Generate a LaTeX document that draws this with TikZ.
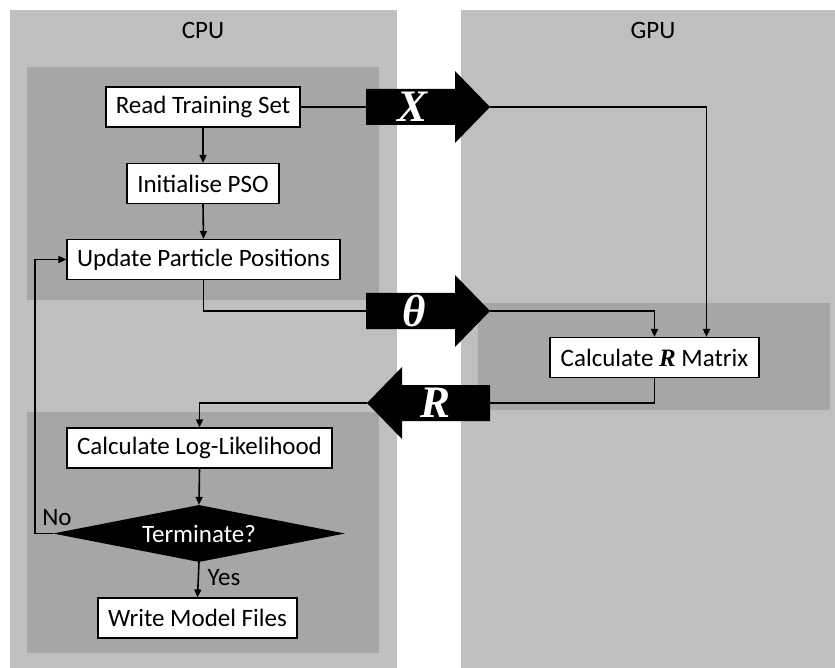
\documentclass[tikz,border=0pt]{standalone}
\usepackage{fontspec}
\setmainfont{Carlito}
\newfontfamily\symfont{Liberation Serif}
\usetikzlibrary{shapes.geometric,arrows.meta,calc}
\definecolor{panellight}{HTML}{BFBFBF}
\definecolor{paneldark}{HTML}{A6A6A6}
\begin{document}
\begin{tikzpicture}[x=1pt,y=-1pt,
  txt/.style={font=\fontsize{25}{27}\selectfont},
  box/.style={draw=black,line width=1.2pt,fill=white,minimum height=40pt,inner sep=0pt,txt},
  conn/.style={line width=1.6pt},
  arr/.style={conn,-{Triangle[length=8pt,width=7pt]}},
  bigarrow/.style={fill=black},
  biglabel/.style={text=white,font=\symfont\bfseries\itshape\fontsize{45}{45}\selectfont,inner sep=0pt}
]
\useasboundingbox (0,0) rectangle (835,668);
\fill[white] (0,0) rectangle (835,668);
% panels
\fill[panellight] (10,10) rectangle (397,668);
\fill[panellight] (461,10) rectangle (835,668);
\fill[paneldark] (27,67) rectangle (379,300);
\fill[paneldark] (27,412) rectangle (379,653);
\fill[paneldark] (478,303) rectangle (830,410);
\node[txt] (cpu) at (203,30) {CPU};
\node[txt] (gpu) at (653,30) {GPU};
% nodes
\node[box,minimum width=194pt] (read) at (203,107) {Read Training Set};
\node[box,minimum width=152pt] (init) at (203,183.5) {Initialise PSO};
\node[box,minimum width=273pt] (upd) at (203.5,259.5) {Update Particle Positions};
\node[box,minimum width=209pt] (rmat) at (654.5,357.5) {Calculate {\symfont\bfseries\itshape R} Matrix};
\node[box,minimum width=265pt] (ll) at (199.5,448) {Calculate Log-Likelihood};
\node[diamond,aspect=5.12,fill=black,text=white,minimum width=292pt,minimum height=57pt,inner sep=0pt,txt] (term) at (199,533.5) {Terminate?};
\node[box,minimum width=199pt] (write) at (197.5,618) {Write Model Files};
% big arrows
\coordinate (xtail) at (366,107);
\coordinate (xtip) at (490,107);
\fill[bigarrow] (366,89) -- (455,89) -- (455,71) -- (490,107) -- (455,143) -- (455,125) -- (366,125) -- cycle;
\node[biglabel] (xlab) at (413,107) {X};
\coordinate (ttail) at (366,311);
\coordinate (ttip) at (490,311);
\fill[bigarrow] (366,293) -- (455,293) -- (455,275) -- (490,311) -- (455,347) -- (455,329) -- (366,329) -- cycle;
\node[biglabel] (tlab) at (414,311) {θ};
\coordinate (rtail) at (490,403);
\coordinate (rtip) at (367,403);
\fill[bigarrow] (490,385) -- (402,385) -- (402,367) -- (367,403) -- (402,439) -- (402,421) -- (490,421) -- cycle;
\node[biglabel] (rlab) at (436,403) {R};
% connectors
\draw[conn] (read.east) -- (xtail);
\draw[arr] (xtip) -| ([xshift=52pt]rmat.north);
\draw[arr] (read.south) -- (init.north);
\draw[arr] (init.south) -- (upd.north);
\draw[conn] (upd.south) |- (ttail);
\draw[arr] (ttip) -| (rmat.north);
\draw[conn] (rmat.south) |- (rtail);
\draw[arr] (rtip) -| (ll.north);
\draw[arr] (ll.south) -- (term.north);
\draw[arr] (term.south) -- (write.north);
\draw[arr] (term.west) -- ++(-18,0) |- (upd.west);
\node[txt] (no) at (57,518) {No};
\node[txt] (yes) at (224,578) {Yes};
\end{tikzpicture}
\end{document}
